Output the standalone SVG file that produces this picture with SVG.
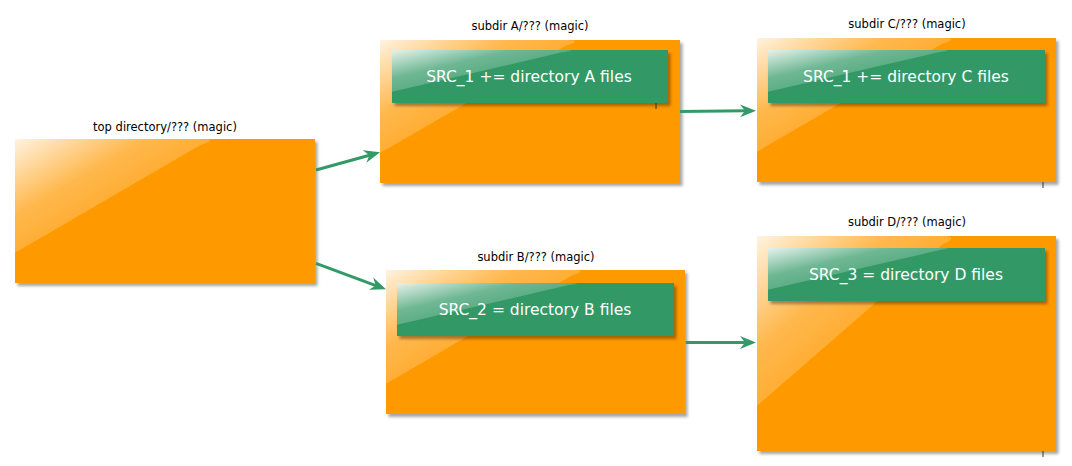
<svg xmlns="http://www.w3.org/2000/svg" xmlns:xlink="http://www.w3.org/1999/xlink" width="1072" height="466" viewBox="0 0 1072 466">
<style>
.box{fill:#ff9900;filter:url(#sh)}
.inner{fill:#339966;filter:url(#sh)}
.gloss{fill:url(#gg)}
.title{font-family:"DejaVu Sans",sans-serif;font-size:11.5px;fill:#000;text-anchor:middle}
.lbl{font-family:"DejaVu Sans",sans-serif;font-size:15.5px;fill:#fff;text-anchor:middle}
.edge{stroke:#339966;stroke-width:3;fill:none;marker-end:url(#ah)}
.tick{stroke:#333;stroke-width:1}
</style>
<defs>
<filter id="sh" x="-5%" y="-5%" width="115%" height="125%">
<feDropShadow dx="2.5" dy="3" stdDeviation="1.8" flood-color="#000" flood-opacity="0.35"/>
</filter>
<linearGradient id="gg" x1="0" y1="0" x2="0.75" y2="0.75">
<stop offset="0" stop-color="#fff" stop-opacity="0.88"/>
<stop offset="0.45" stop-color="#fff" stop-opacity="0.3"/>
<stop offset="1" stop-color="#fff" stop-opacity="0.07"/>
</linearGradient>
<path id="gl" d="M0,0 H0.62 Q0.68,0 0.62,0.04 L0,0.79 Z"/>
<marker id="ah" markerUnits="userSpaceOnUse" orient="auto" markerWidth="17" markerHeight="14" refX="6" refY="7">
<path d="M16,7 L0,0.5 L5,7 L0,13.5 Z" fill="#339966"/>
</marker>
</defs>

<g id="top">
<text class="title" x="165" y="131">top directory/??? (magic)</text>
<rect class="box" x="15" y="139" width="300" height="144"/>
<use xlink:href="#gl" class="gloss" transform="translate(15,139) scale(300,144)"/>
</g>

<g id="subdirA">
<text class="title" x="530" y="30">subdir A/??? (magic)</text>
<rect class="box" x="380" y="40" width="300" height="143"/>
<use xlink:href="#gl" class="gloss" transform="translate(380,40) scale(300,143)"/>
<rect class="inner" x="392" y="50" width="276" height="53"/>
<use xlink:href="#gl" class="gloss" transform="translate(392,50) scale(276,53)"/>
<text class="lbl" x="529" y="82">SRC_1 += directory A files</text>
<line class="tick" x1="656" y1="103" x2="656" y2="109"/>
</g>

<g id="subdirC">
<text class="title" x="907" y="28">subdir C/??? (magic)</text>
<rect class="box" x="757" y="38" width="299" height="144"/>
<use xlink:href="#gl" class="gloss" transform="translate(757,38) scale(299,144)"/>
<rect class="inner" x="768" y="50" width="277" height="53"/>
<use xlink:href="#gl" class="gloss" transform="translate(768,50) scale(277,53)"/>
<text class="lbl" x="906" y="82">SRC_1 += directory C files</text>
<line class="tick" x1="1043" y1="182" x2="1043" y2="188"/>
</g>

<g id="subdirB">
<text class="title" x="536" y="261">subdir B/??? (magic)</text>
<rect class="box" x="386" y="270" width="299" height="144"/>
<use xlink:href="#gl" class="gloss" transform="translate(386,270) scale(299,144)"/>
<rect class="inner" x="397" y="283" width="277" height="53"/>
<use xlink:href="#gl" class="gloss" transform="translate(397,283) scale(277,53)"/>
<text class="lbl" x="535" y="315">SRC_2 = directory B files</text>
</g>

<g id="subdirD">
<text class="title" x="907" y="226">subdir D/??? (magic)</text>
<rect class="box" x="757" y="236" width="299" height="215"/>
<use xlink:href="#gl" class="gloss" transform="translate(757,236) scale(299,215)"/>
<rect class="inner" x="768" y="248" width="277" height="53"/>
<use xlink:href="#gl" class="gloss" transform="translate(768,248) scale(277,53)"/>
<text class="lbl" x="906" y="280">SRC_3 = directory D files</text>
<line class="tick" x1="1043" y1="451" x2="1043" y2="457"/>
</g>

<g id="connectors">
<line class="edge" x1="316" y1="170" x2="370.4" y2="155"/>
<line class="edge" x1="316" y1="263.3" x2="376.6" y2="285.8"/>
<line class="edge" x1="680" y1="111.5" x2="746" y2="110.8"/>
<line class="edge" x1="685.7" y1="342.5" x2="746" y2="342.5"/>
</g>
</svg>
